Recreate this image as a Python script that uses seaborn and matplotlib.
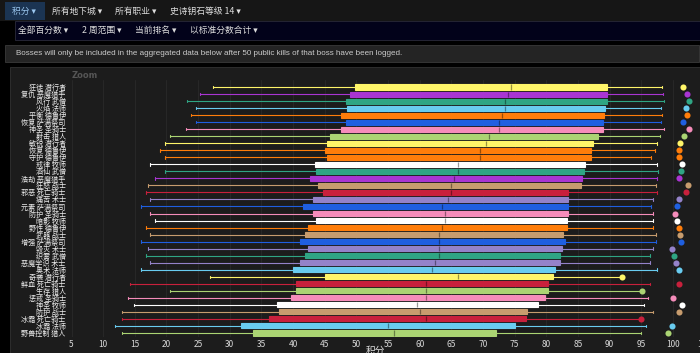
import numpy as np
import pandas as pd
import matplotlib
matplotlib.use('Agg')
import matplotlib.pyplot as plt
import matplotlib.colors as mcolors
import seaborn as sns
from matplotlib.patches import Rectangle

# Spezialisierungen von oben nach unten
SPECS = ['狂徒 潜行者', '复仇 恶魔猎手', '风行 武僧', '火焰 法师', '平衡 德鲁伊', '恢复 萨满祭司',
         '神圣 圣骑士', '射击 猎人', '敏锐 潜行者', '恢复 德鲁伊', '守护 德鲁伊', '戒律 牧师',
         '酒仙 武僧', '浩劫 恶魔猎手', '狂怒 战士', '邪恶 死亡骑士', '痛苦 术士', '元素 萨满祭司',
         '防护 圣骑士', '暗影 牧师', '野性 德鲁伊', '武器 战士', '增强 萨满祭司', '毁灭 术士',
         '织雾 武僧', '恶魔学识 术士', '奥术 法师', '奇袭 潜行者', '鲜血 死亡骑士', '生存 猎人',
         '惩戒 圣骑士', '神圣 牧师', '防护 战士', '冰霜 死亡骑士', '冰霜 法师', '野兽控制 猎人']

whisker_lo = [27.4, 25.3, 23.3, 24.7, 23.8, 24.6, 23.1, 20.6, 19.8, 19.0, 19.8, 17.4,
              19.8, 18.2, 17.1, 16.7, 17.4, 15.9, 17.4, 18.2, 16.7, 17.4, 15.9, 17.1,
              16.7, 17.4, 15.9, 26.9, 14.3, 20.6, 14.0, 14.8, 13.0, 13.0, 11.9, 13.0]
q1 = [49.8, 49.0, 48.4, 48.6, 47.5, 48.3, 47.5, 45.9, 45.4, 45.1, 45.3, 43.4,
      43.7, 42.7, 44.0, 44.8, 43.2, 41.5, 43.2, 43.7, 42.3, 41.9, 41.1, 42.3,
      41.9, 41.1, 40.0, 45.1, 40.4, 40.4, 39.6, 37.5, 37.8, 36.2, 31.7, 33.6]
median = [74.5, 74.0, 73.5, 73.5, 73.0, 72.5, 72.5, 71.0, 70.5, 69.5, 69.5, 66.0,
          66.0, 65.5, 65.0, 65.0, 64.5, 63.5, 64.0, 64.0, 63.5, 63.0, 63.0, 63.0,
          63.0, 62.5, 62.0, 66.0, 61.0, 61.0, 61.0, 59.6, 60.1, 61.0, 55.0, 56.0]
q3 = [89.6, 89.6, 89.6, 89.3, 89.2, 89.0, 88.9, 88.2, 87.4, 87.1, 87.0, 86.2,
      85.9, 85.7, 85.5, 83.5, 83.5, 83.5, 83.5, 83.3, 83.2, 82.7, 83.0, 82.5,
      82.2, 82.2, 81.4, 81.1, 80.3, 80.2, 79.8, 78.7, 77.0, 76.8, 75.1, 72.0]
whisker_hi = [98.3, 98.5, 98.6, 98.2, 98.3, 98.2, 98.6, 97.9, 97.5, 97.2, 96.6, 97.5,
              97.7, 97.5, 97.4, 97.5, 96.9, 96.6, 96.8, 96.9, 96.9, 97.4, 97.4, 96.9,
              96.4, 96.4, 97.5, 92.0, 96.4, 95.2, 96.0, 95.4, 96.8, 95.0, 95.7, 95.0]
top_score = [101.6, 102.3, 102.6, 102.1, 102.3, 101.6, 102.6, 101.8, 101.2, 100.9, 100.9, 101.5,
             101.3, 101.0, 102.4, 102.0, 101.0, 100.7, 100.4, 100.7, 100.9, 101.2, 101.3, 99.8,
             100.2, 100.5, 100.9, 92.0, 100.9, 95.2, 100.1, 101.5, 100.9, 95.0, 99.8, 99.3]

X_TICKS = list(range(5, 110, 5))

CLASS_COLORS = {
    '潜行者': '#fff569', '恶魔猎手': '#a935d2', '武僧': '#2fa584', '法师': '#69ccf0',
    '德鲁伊': '#ff7d0a', '萨满祭司': '#1f5fe0', '圣骑士': '#f58cba', '猎人': '#abd473',
    '牧师': '#ffffff', '战士': '#c79c6e', '死亡骑士': '#c8203c', '术士': '#9482c9',
}
colors = [CLASS_COLORS[s.split(' ')[1]] for s in SPECS]

W, H = 700, 353

sns.set_theme(style='dark')
plt.rcParams['font.family'] = ['Noto Sans CJK SC', 'DejaVu Sans']

fig = plt.figure(figsize=(7, 3.53), dpi=100)
fig.patch.set_facecolor('black')


def rect(x0, y0, x1, y1, fc, ec=None, lw=0):
    # pixel coords, origin top-left
    fig.add_artist(Rectangle((x0 / W, 1 - y1 / H), (x1 - x0) / W, (y1 - y0) / H,
                             transform=fig.transFigure, facecolor=fc,
                             edgecolor=ec if ec else fc, linewidth=lw, zorder=0))


def txt(x, y, s, size=6.3, color='#dddddd', **kw):
    fig.text(x / W, 1 - y / H, s, fontsize=size, color=color, va='center', **kw)


# obere Navigation
rect(0, 0, 700, 21, '#161616')
rect(5, 2, 45, 20, '#1b3452')
txt(12, 11, '积分 ▾', color='#9cc8f0')
txt(52, 11, '所有地下城 ▾')
txt(115, 11, '所有职业 ▾')
txt(170, 11, '史诗钥石等级 14 ▾')

rect(15, 21, 700, 39.5, '#02021a', ec='#2a2a3a', lw=0.6)
txt(18, 30, '全部百分数 ▾')
txt(82, 30, '2 周范围 ▾')
txt(135, 30, '当前排名 ▾')
txt(190, 30, '以标准分数合计 ▾')

rect(5, 45, 699, 62, '#242424', ec='#3a3a3a', lw=0.6)
txt(16, 53.5, 'Bosses will only be included in the aggregated data below after 50 public '
    'kills of that boss have been logged.', size=5.75, color='#cccccc', family='Liberation Sans')

# Diagrammfeld
rect(10, 67, 701, 354, '#1c1c1c', ec='#333333', lw=0.6)
txt(72, 75, 'Zoom', size=6, color='#555555', weight='bold', family='DejaVu Sans')

ax = fig.add_axes([70 / W, 16 / H, 650 / W, 257 / H])
ax.set_facecolor('none')

for i, spec in enumerate(SPECS):
    c = colors[i]
    dark = tuple(np.array(mcolors.to_rgb(c)) * 0.6)
    vals = [whisker_lo[i], q1[i], median[i], q3[i], whisker_hi[i]]
    sns.boxplot(x=vals, y=[spec] * 5, order=SPECS, orient='h', whis=(0, 100),
                width=0.72, color=c, linecolor=c, saturation=1, linewidth=0.8,
                showfliers=False, medianprops={'color': dark, 'linewidth': 0.9},
                ax=ax)

df_top = pd.DataFrame({'spec': SPECS, 'top': top_score})
sns.stripplot(data=df_top, x='top', y='spec', hue='spec', order=SPECS, hue_order=SPECS,
              palette=dict(zip(SPECS, colors)), jitter=False, size=4.4, linewidth=0,
              legend=False, ax=ax, zorder=4)

ax.set_xlim(4.76, 107.45)
ax.set_ylim(35.57, -1.0)
ax.set_xticks(X_TICKS)
ax.xaxis.grid(True, color='#2a2a2a', linewidth=0.6)
ax.yaxis.grid(False)
ax.set_axisbelow(True)
ax.tick_params(axis='y', labelsize=5.1, colors='#eeeeee', length=0, pad=3)
ax.tick_params(axis='x', labelsize=6, colors='#d8d8d8', length=0, pad=2.5)
ax.set_xlabel('')
ax.set_ylabel('')
for sp in ax.spines.values():
    sp.set_visible(False)

txt(375, 351, '积分', size=7, color='#dddddd', ha='center')

fig.savefig('out.png', dpi=100, facecolor=fig.get_facecolor())
